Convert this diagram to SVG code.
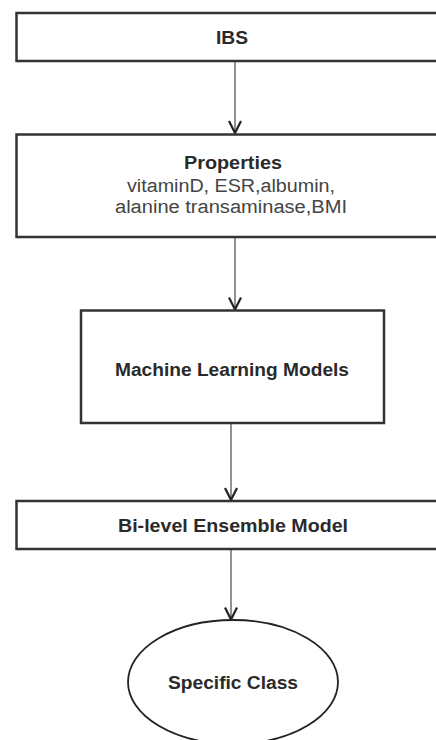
<svg xmlns="http://www.w3.org/2000/svg" width="436" height="740" viewBox="0 0 436 740">
<style>
.box{fill:#fff;stroke:#333;stroke-width:2.5}
.lbl{font-family:"Liberation Sans",Arial,sans-serif;font-weight:bold;fill:#2a2a2a;text-anchor:middle;font-size:18px}
.reg{font-family:"Liberation Sans",Arial,sans-serif;fill:#444;text-anchor:middle;font-size:18px}
.conn{stroke:#777;stroke-width:1.6;fill:none}
</style>
<defs>
<marker id="arr" markerUnits="userSpaceOnUse" markerWidth="20" markerHeight="20" refX="13" refY="10" orient="auto" viewBox="0 0 20 20">
<path d="M1 4 L13 10 L1 16" stroke="#222" stroke-width="2.2" fill="none"/>
</marker>
</defs>
<rect width="436" height="740" fill="#fff"/>
<g id="connectors">
<line class="conn" x1="235" y1="61" x2="235" y2="133" marker-end="url(#arr)"/>
<line class="conn" x1="235" y1="237" x2="235" y2="309.5" marker-end="url(#arr)"/>
<line class="conn" x1="231" y1="423" x2="231" y2="500" marker-end="url(#arr)"/>
<line class="conn" x1="231" y1="549" x2="231" y2="619.5" marker-end="url(#arr)"/>
</g>
<g id="ibs">
<rect class="box" x="16.5" y="13" width="430" height="48"/>
<text class="lbl" x="232" y="44" font-size="16" textLength="32" lengthAdjust="spacingAndGlyphs">IBS</text>
</g>
<g id="properties">
<rect class="box" x="16.5" y="134.5" width="430" height="102.5"/>
<text class="lbl" x="233" y="169" textLength="98" lengthAdjust="spacingAndGlyphs">Properties</text>
<text class="reg" x="231" y="192" textLength="208" lengthAdjust="spacingAndGlyphs">vitaminD, ESR,albumin,</text>
<text class="reg" x="231" y="213" textLength="232" lengthAdjust="spacingAndGlyphs">alanine transaminase,BMI</text>
</g>
<g id="ml">
<rect class="box" x="81" y="310.5" width="303" height="112.5"/>
<text class="lbl" x="232" y="376" textLength="234" lengthAdjust="spacingAndGlyphs">Machine Learning Models</text>
</g>
<g id="ensemble">
<rect class="box" x="16.5" y="501" width="430" height="48"/>
<text class="lbl" x="233" y="532" textLength="230" lengthAdjust="spacingAndGlyphs">Bi-level Ensemble Model</text>
</g>
<g id="class">
<ellipse cx="233" cy="682" rx="105" ry="62" fill="#fff" stroke="#222" stroke-width="1.8"/>
<text class="lbl" x="233" y="689" textLength="130" lengthAdjust="spacingAndGlyphs">Specific Class</text>
</g>
</svg>
